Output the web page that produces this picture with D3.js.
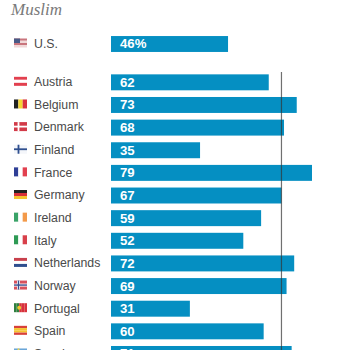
<!DOCTYPE html>
<html>
<head>
<meta charset="utf-8">
<title>Muslim</title>
<script src="https://d3js.org/d3.v7.min.js"></script>
<style>
  html, body { margin: 0; padding: 0; background: #fff; overflow: hidden; }
</style>
</head>
<body>
<svg width="350" height="350"></svg>
<script>
// values
const usLabel = "U.S.";
const usValue = 46;
const countries = ["Austria", "Belgium", "Denmark", "Finland", "France", "Germany", "Ireland",
    "Italy", "Netherlands", "Norway", "Portugal", "Spain", "Sweden"];
const values = [62, 73, 68, 35, 79, 67, 59, 52, 72, 69, 31, 60, 71];
const medianValue = 67;

// flags: stripe colours, d = direction
const flags = {
    "U.S.": { d: "h", c: ["#c9757d", "#f0d8d8", "#c9757d", "#f0d8d8"], canton: "#4a5a86" },
    Austria: { d: "h", c: ["#e2404f", "#fff", "#e2404f"] },
    Belgium: { d: "v", c: ["#222", "#f5d531", "#d9313d"] },
    Denmark: { d: "h", c: ["#d23a48"], cross: ["#fff"] },
    Finland: { d: "h", c: ["#f4f6fa"], cross: ["#2f4f8f"] },
    France: { d: "v", c: ["#2f3f96", "#fff", "#e2404f"] },
    Germany: { d: "h", c: ["#222", "#d8303a", "#f4c430"] },
    Ireland: { d: "v", c: ["#3aa368", "#fff", "#f39a4a"] },
    Italy: { d: "v", c: ["#2e9a55", "#fff", "#d8404a"] },
    Netherlands: { d: "h", c: ["#c8404c", "#fff", "#2f4f8f"] },
    Norway: { d: "h", c: ["#d8505c"], cross: ["#fff", "#3a4f8f"] },
    Portugal: { d: "v", c: ["#2f7f3f", "#2f7f3f", "#d8323c", "#d8323c", "#d8323c"], dot: "#f0c92e" },
    Spain: { d: "h", c: ["#d8403a", "#f4c430", "#f4c430", "#d8403a"] },
    Sweden: { d: "h", c: ["#6aa6d8"], cross: ["#f4d84a"] }
};

const svg = d3.select("svg");
const blue = "#058fc2", textCol = "#4a4a4a";
const sans = "'Liberation Sans', Arial, sans-serif";

const x = d3.scaleLinear().domain([0, 79]).range([111, 312]);
const y = d3.scaleBand().domain(countries).range([71, 365.3]).paddingInner(0.295).paddingOuter(0.148);
const usY = d3.scaleBand().domain([usLabel]).range([32.7, 55.3]).paddingInner(0.295).paddingOuter(0.148);

svg.append("text")
    .attr("x", 11).attr("y", 15)
    .attr("font-family", "'Liberation Serif', Georgia, serif")
    .attr("font-style", "italic")
    .attr("font-size", 17)
    .attr("fill", "#7a7a7a")
    .text("Muslim");

function drawFlag(g, name) {
    const f = flags[name], w = 13, h = 9;
    const fg = g.append("g").attr("transform", "translate(14,-5.5)");
    const n = f.c.length;
    f.c.forEach((col, i) => {
        fg.append("rect")
            .attr("x", f.d === "v" ? i * w / n : 0)
            .attr("y", f.d === "h" ? i * h / n : 0)
            .attr("width", f.d === "v" ? w / n : w)
            .attr("height", f.d === "h" ? h / n : h)
            .attr("fill", col);
    });
    if (f.canton) fg.append("rect").attr("width", 6).attr("height", 4.5).attr("fill", f.canton);
    if (f.cross) {
        f.cross.forEach((col, i) => {
            const t = (f.cross.length > 1 ? 3 : 1.8) - i * 1.6;
            fg.append("rect").attr("x", 0).attr("y", (h - t) / 2).attr("width", w).attr("height", t).attr("fill", col);
            fg.append("rect").attr("x", 4.5 - t / 2).attr("y", 0).attr("width", t).attr("height", h).attr("fill", col);
        });
    }
    if (f.dot) fg.append("circle").attr("cx", 5.2).attr("cy", 4.5).attr("r", 2).attr("fill", f.dot);
}

function drawRow(name, value, rowY, band, label) {
    const g = svg.append("g").attr("transform", `translate(0,${rowY + band / 2})`);
    drawFlag(g, name);
    g.append("text")
        .attr("x", 34).attr("y", -0.6).attr("dy", "0.36em")
        .attr("font-family", sans).attr("font-size", 12.3)
        .attr("fill", textCol)
        .text(name);
    g.append("rect")
        .attr("x", x(0)).attr("y", -band / 2)
        .attr("width", x(value) - x(0)).attr("height", band)
        .attr("fill", blue);
    g.append("text")
        .attr("x", x(0) + 9).attr("y", -0.3).attr("dy", "0.36em")
        .attr("font-family", sans).attr("font-size", 13.2).attr("font-weight", 700)
        .attr("fill", "#fff")
        .text(label);
}

drawRow(usLabel, usValue, usY(usLabel), usY.bandwidth(), usValue + "%");
countries.forEach((c, i) => drawRow(c, values[i], y(c), y.bandwidth(), values[i]));

// reference line
svg.append("line")
    .attr("x1", x(medianValue)).attr("x2", x(medianValue))
    .attr("y1", 72).attr("y2", 350)
    .attr("stroke", "#333")
    .attr("stroke-opacity", 0.7)
    .attr("stroke-width", 1.2);
</script>
</body>
</html>
